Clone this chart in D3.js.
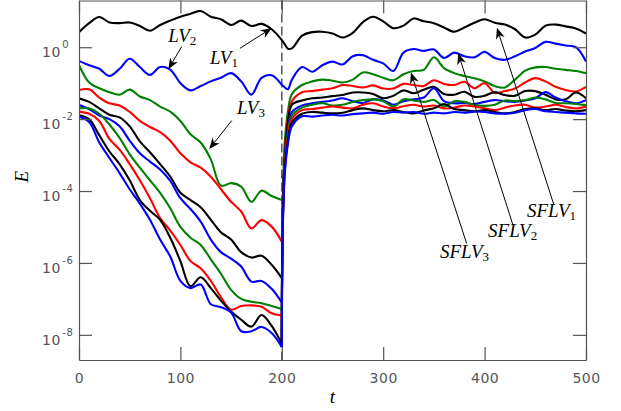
<!DOCTYPE html>
<html lang="en">
<head>
<script src="https://d3js.org/d3.v7.min.js"></script>
<style>
body { margin: 0; background: #fff; }
</style>
</head>
<body>
<script>
// ---- data (log10 of E) ----
const tPre = [0,10,20,30,40,50,60,70,80,90,100,110,120,130,140,150,160,170,180,190,200];
const tPost = [200,200.5,201.5,203,206,210,220,230,240,250,260,270,280,290,300,310,320,330,340,350,360,370,380,390,400,410,420,430,440,450,460,470,480,490,500];

const seriesColors = ["#000000", "#0000ff", "#008000", "#ff0000", "#000000", "#0000ff", "#008000", "#ff0000", "#000000", "#0000ff"];

const preLogE = [
  [0.42,0.67,0.84,0.69,0.67,0.69,0.59,0.46,0.62,0.74,0.85,0.93,1.01,0.85,0.78,0.62,0.74,0.59,0.65,0.5,0.2],
  [-0.38,-0.5,-0.6,-0.8,-0.6,-0.32,-0.55,-0.77,-0.55,-0.62,-1.0,-1.2,-1.08,-0.95,-0.85,-0.72,-0.95,-1.32,-0.85,-0.78,-1.05],
  [-0.49,-0.98,-1.14,-1.25,-1.32,-1.18,-1.37,-1.47,-1.65,-1.79,-2.05,-2.42,-2.65,-3.12,-3.85,-3.78,-3.88,-4.3,-3.99,-4.14,-4.25],
  [-1.19,-1.17,-1.4,-1.56,-1.62,-1.8,-2.05,-2.22,-2.36,-2.6,-2.95,-3.2,-3.35,-3.6,-3.95,-4.3,-4.57,-5.04,-4.81,-4.99,-5.41],
  [-1.42,-1.52,-1.7,-1.88,-1.95,-2.2,-2.62,-2.92,-3.25,-3.6,-4.05,-4.25,-4.45,-4.8,-5.15,-5.35,-5.7,-5.85,-5.8,-6.05,-6.42],
  [-1.61,-1.72,-1.9,-2.0,-2.2,-2.6,-2.95,-3.18,-3.4,-3.72,-4.2,-4.5,-4.85,-5.35,-5.7,-5.88,-6.1,-6.52,-6.5,-6.72,-7.1],
  [-1.7,-1.7,-1.85,-2.15,-2.52,-2.98,-3.35,-3.7,-4.05,-4.48,-5.0,-5.3,-5.5,-5.9,-6.3,-6.75,-7.0,-7.08,-7.12,-7.2,-7.28],
  [-1.79,-1.85,-2.05,-2.55,-2.85,-3.25,-3.7,-4.2,-4.75,-5.1,-5.5,-5.95,-6.15,-6.5,-6.95,-7.3,-7.2,-7.18,-7.22,-7.4,-7.46],
  [-1.89,-2.0,-2.45,-2.9,-3.25,-3.7,-4.25,-4.55,-4.8,-5.3,-5.95,-6.65,-6.4,-6.7,-7.05,-7.35,-7.58,-7.77,-7.45,-7.75,-8.25],
  [-1.93,-2.08,-2.65,-3.08,-3.5,-3.95,-4.35,-4.8,-5.35,-5.82,-6.5,-6.7,-6.6,-7.15,-7.23,-7.38,-7.9,-7.9,-7.78,-7.95,-8.34]
];

const postLogE = [
  [0.2,0.18,0.14,0.08,-0.04,-0.03,0.32,0.42,0.43,0.38,0.27,0.4,0.7,0.85,0.72,0.53,0.6,0.8,0.72,0.67,0.55,0.43,0.55,0.68,0.78,0.68,0.63,0.5,0.27,0.35,0.6,0.63,0.58,0.52,0.38],
  [-1.05,-1.06,-1.08,-1.12,-1.17,-0.9,-0.55,-0.68,-0.5,-0.4,-0.48,-0.25,-0.22,-0.35,-0.45,-0.66,-0.15,-0.05,-0.1,-0.06,-0.3,-0.15,-0.25,-0.28,-0.13,-0.3,-0.35,-0.25,-0.12,-0.02,0.15,0.1,0.05,0.0,-0.4],
  [-8.34,-5.0,-3.6,-2.6,-1.8,-1.3,-1.05,-0.95,-0.9,-0.93,-0.98,-0.9,-0.7,-0.75,-0.85,-0.92,-0.75,-0.66,-0.63,-0.28,-0.58,-0.72,-0.8,-0.86,-0.95,-1.08,-1.12,-0.9,-0.65,-0.56,-0.55,-0.6,-0.63,-0.66,-0.72],
  [-8.34,-5.2,-3.9,-2.9,-2.0,-1.5,-1.25,-1.22,-1.18,-1.14,-1.05,-1.08,-1.12,-1.06,-1.15,-1.15,-1.02,-1.05,-1.08,-0.92,-1.02,-1.05,-0.96,-1.14,-1.0,-1.27,-1.22,-1.15,-0.98,-0.86,-0.95,-1.1,-1.19,-1.23,-1.1],
  [-8.34,-5.3,-4.0,-3.0,-2.1,-1.6,-1.48,-1.42,-1.4,-1.36,-1.33,-1.26,-1.26,-1.3,-1.42,-1.35,-1.2,-1.28,-1.18,-1.1,-1.3,-1.32,-1.24,-1.38,-1.35,-1.25,-1.33,-1.35,-1.22,-1.22,-1.32,-1.45,-1.45,-1.26,-1.42],
  [-8.34,-5.4,-4.1,-3.1,-2.3,-1.8,-1.62,-1.56,-1.52,-1.48,-1.42,-1.5,-1.55,-1.45,-1.48,-1.6,-1.5,-1.45,-1.4,-1.14,-1.5,-1.56,-1.55,-1.58,-1.52,-1.47,-1.5,-1.52,-1.48,-1.42,-1.25,-1.4,-1.5,-1.56,-1.47],
  [-8.34,-5.5,-4.2,-3.2,-2.4,-1.9,-1.68,-1.6,-1.56,-1.62,-1.6,-1.52,-1.47,-1.45,-1.5,-1.65,-1.45,-1.48,-1.52,-1.47,-1.65,-1.5,-1.52,-1.61,-1.63,-1.6,-1.48,-1.5,-1.47,-1.4,-1.45,-1.55,-1.56,-1.58,-1.61],
  [-8.34,-5.6,-4.3,-3.3,-2.5,-2.0,-1.75,-1.72,-1.68,-1.65,-1.68,-1.7,-1.6,-1.56,-1.65,-1.7,-1.64,-1.6,-1.65,-1.62,-1.7,-1.68,-1.62,-1.65,-1.7,-1.75,-1.68,-1.62,-1.6,-1.68,-1.65,-1.6,-1.66,-1.7,-1.65],
  [-8.34,-5.7,-4.4,-3.4,-2.6,-2.1,-1.85,-1.8,-1.82,-1.84,-1.82,-1.75,-1.7,-1.75,-1.78,-1.75,-1.8,-1.84,-1.76,-1.7,-1.58,-1.72,-1.75,-1.78,-1.75,-1.8,-1.84,-1.8,-1.72,-1.7,-1.75,-1.72,-1.76,-1.78,-1.75],
  [-8.34,-5.8,-4.5,-3.5,-2.7,-2.2,-1.92,-1.93,-1.9,-1.88,-1.9,-1.86,-1.84,-1.82,-1.85,-1.8,-1.82,-1.8,-1.85,-1.82,-1.84,-1.8,-1.82,-1.79,-1.8,-1.84,-1.85,-1.82,-1.75,-1.72,-1.78,-1.8,-1.82,-1.84,-1.85]
];

const xTicks = [0, 100, 200, 300, 400, 500];
const yTickExp = [0, -2, -4, -6, -8];
const switchTime = 200;

// annotations: label, subscript, text anchor point, arrow start, arrow tip (t, log10 E)
const notes = [
  { name: "LV", sub: "2", at: [88.1, 0.156], from: [101.3, 0.017], to: [88.1, -0.61] },
  { name: "LV", sub: "1", at: [129.2, -0.473], from: [158.8, -0.028], to: [190.0, 0.529] },
  { name: "LV", sub: "3", at: [155.8, -1.86], from: [150.6, -2.04], to: [128.5, -2.83] },
  { name: "SFLV", sub: "1", at: [441.8, -4.72], from: [468.4, -4.39], to: [412.2, 0.54] },
  { name: "SFLV", sub: "2", at: [403.4, -5.28], from: [428.0, -4.95], to: [374.0, -0.17] },
  { name: "SFLV", sub: "3", at: [356.0, -5.86], from: [382.3, -5.46], to: [327.4, -0.70] }
];

// ---- layout ----
const W = 621, H = 411;
const plotLeft = 79, plotRight = 586, plotTop = 0.5, plotBottom = 360;
const axisColor = "#555";
const serif = "'Liberation Serif', 'DejaVu Serif', serif";
const sans = "'DejaVu Sans', sans-serif";

const svg = d3.select("body").append("svg")
  .attr("width", W).attr("height", H);

const x = d3.scaleLinear().domain([0, 500]).range([plotLeft, plotRight]);
const y = d3.scaleLog().domain([Math.pow(10, -8.70), Math.pow(10, 1.30)]).range([plotBottom, plotTop]);
const py = v => y(Math.pow(10, v));

svg.append("defs").append("clipPath").attr("id", "plot")
  .append("rect").attr("x", plotLeft).attr("y", plotTop)
  .attr("width", plotRight - plotLeft).attr("height", plotBottom - plotTop);

// dashed line at the switch time
svg.append("line")
  .attr("x1", x(switchTime)).attr("x2", x(switchTime))
  .attr("y1", plotTop).attr("y2", plotBottom)
  .attr("stroke", axisColor).attr("stroke-width", 1.5)
  .attr("stroke-dasharray", "9,4");

// ---- curves ----
const line = d3.line()
  .x(d => x(d[0]))
  .y(d => py(d[1]))
  .curve(d3.curveCatmullRom.alpha(0.5));

const curves = svg.append("g").attr("clip-path", "url(#plot)");
preLogE.forEach((vals, i) => {
  const pre = tPre.map((t, j) => [t, vals[j]]);
  const post = tPost.map((t, j) => [t, postLogE[i][j]]);
  [pre, post].forEach(seg => {
    curves.append("path")
      .datum(seg)
      .attr("fill", "none")
      .attr("stroke", seriesColors[i])
      .attr("stroke-width", 2.1)
      .attr("stroke-linejoin", "round")
      .attr("d", line);
  });
});

// ---- axes (box with inward ticks) ----
const yTickVals = yTickExp.map(e => Math.pow(10, e));

const gx = svg.append("g").attr("transform", `translate(0,${plotBottom})`)
  .call(d3.axisBottom(x).tickValues(xTicks).tickSize(-13).tickSizeOuter(0));
gx.selectAll("text").attr("y", 23).attr("dy", null)
  .style("font-family", sans).style("font-size", "14px").style("letter-spacing", "0.5px")
  .attr("fill", axisColor);

svg.append("g").attr("transform", `translate(0,${plotTop})`)
  .call(d3.axisTop(x).tickValues(xTicks).tickSize(-13).tickSizeOuter(0).tickFormat(""));

svg.append("g").attr("transform", `translate(${plotLeft},0)`)
  .call(d3.axisLeft(y).tickValues(yTickVals).tickSize(-13).tickSizeOuter(0).tickFormat(""));

svg.append("g").attr("transform", `translate(${plotRight},0)`)
  .call(d3.axisRight(y).tickValues(yTickVals).tickSize(-13).tickSizeOuter(0).tickFormat(""));

svg.selectAll(".domain, .tick line").attr("stroke", axisColor).attr("stroke-width", 1.2);

// y tick labels 10^e
yTickExp.forEach(e => {
  const t = svg.append("text")
    .attr("x", 42).attr("y", py(e) + 10)
    .style("font-family", sans).style("font-size", "14px").style("letter-spacing", "0.5px")
    .attr("fill", axisColor);
  t.append("tspan").text("10");
  t.append("tspan").attr("dy", -9).attr("dx", 1.5).style("font-size", "10px")
    .text(e === 0 ? "0" : "-" + Math.abs(e));
});

// axis titles
svg.append("text")
  .attr("x", x(250)).attr("y", 403)
  .attr("text-anchor", "middle")
  .style("font-family", serif).style("font-style", "italic").style("font-size", "19px")
  .text("t");

svg.append("text")
  .attr("transform", `translate(28,${py(-3.6)}) rotate(-90)`)
  .attr("text-anchor", "middle")
  .style("font-family", serif).style("font-style", "italic").style("font-size", "19px")
  .text("E");

// ---- annotations ----
notes.forEach(n => {
  const x0 = x(n.from[0]), y0 = py(n.from[1]);
  const x1 = x(n.to[0]), y1 = py(n.to[1]);
  const len = Math.hypot(x1 - x0, y1 - y0);
  const ux = (x1 - x0) / len, uy = (y1 - y0) / len;
  const head = 11, half = 4.5;
  const bx = x1 - ux * head, by = y1 - uy * head;
  const nx = x1 - ux * head * 0.7, ny = y1 - uy * head * 0.7;

  svg.append("line")
    .attr("x1", x0).attr("y1", y0).attr("x2", nx).attr("y2", ny)
    .attr("stroke", "#000").attr("stroke-width", 1);

  svg.append("path")
    .attr("d", `M${x1},${y1}L${bx - uy * half},${by + ux * half}L${nx},${ny}L${bx + uy * half},${by - ux * half}Z`)
    .attr("fill", "#000");

  const t = svg.append("text")
    .attr("x", x(n.at[0])).attr("y", py(n.at[1]))
    .style("font-family", serif).style("font-style", "italic").style("font-size", "19px")
    .attr("fill", "#000");
  t.append("tspan").text(n.name);
  t.append("tspan").attr("dy", 3).style("font-size", "13px").style("font-style", "normal").text(n.sub);
});
</script>
</body>
</html>
